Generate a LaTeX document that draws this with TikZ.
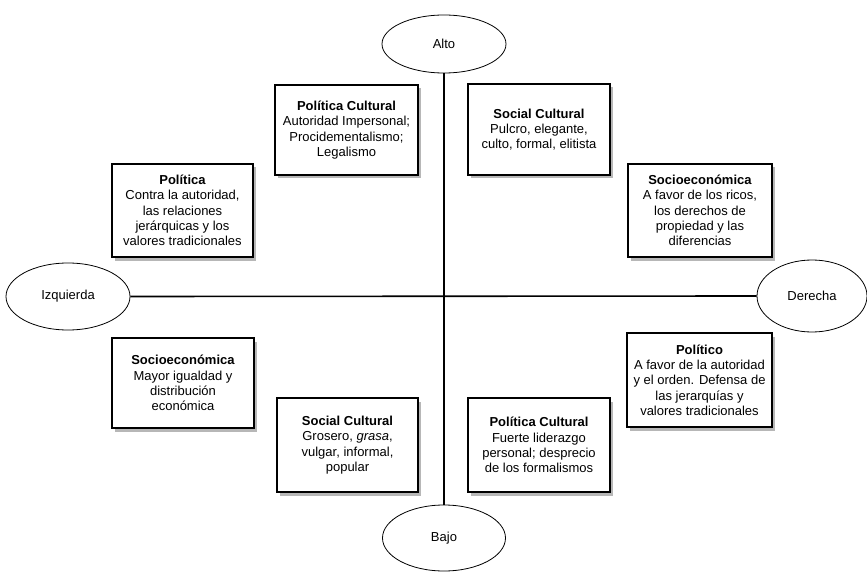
\documentclass[tikz,border=0pt]{standalone}
\usepackage{fontspec}
\setmainfont{Liberation Sans}
\usetikzlibrary{shapes.geometric,shadows}
\begin{document}
\begin{tikzpicture}[x=1pt,y=-1pt,
  infobox/.style={draw=black,line width=1.3pt,fill=white,align=center,
    inner sep=0pt,font=\fontsize{13}{15.3}\selectfont,
    drop shadow={shadow xshift=2.5pt,shadow yshift=-3.5pt,opacity=0.4,fill=black!70}},
  pole/.style={draw=black,ellipse,line width=0.8pt,fill=white,inner sep=0pt,
    font=\fontsize{13}{15.3}\selectfont},
  axis/.style={line width=1.6pt}]
\useasboundingbox (0,0) rectangle (867,572);
% poles
\node[pole,minimum width=124pt,minimum height=58pt] (alto) at (444,44) {Alto};
\node[pole,minimum width=123pt,minimum height=66pt] (bajo) at (444,538) {Bajo};
\node[pole,minimum width=124pt,minimum height=67pt] (izq) at (68,296.5) {Izquierda};
\node[pole,minimum width=110pt,minimum height=72pt] (der) at (812,296) {Derecha};
% axes
\draw[axis] (alto.south) -- (bajo.north);
\draw[axis] (izq.east) -- (der.west);
% boxes
\node[infobox,minimum width=143pt,minimum height=90pt] (b1) at (346.5,130)
  {\textbf{Política Cultural}\\Autoridad Impersonal;\\Procidementalismo;\\Legalismo};
\node[infobox,minimum width=142pt,minimum height=91pt] (b2) at (539,129.5)
  {\textbf{Social Cultural}\\Pulcro, elegante,\\culto, formal, elitista};
\node[infobox,minimum width=141pt,minimum height=93pt] (b3) at (182.5,210.5)
  {\textbf{Política}\\Contra la autoridad,\\las relaciones\\jerárquicas y los\\valores tradicionales};
\node[infobox,minimum width=144pt,minimum height=93pt] (b4) at (700,210.5)
  {\textbf{Socioeconómica}\\A favor de los ricos,\\los derechos de\\propiedad y las\\diferencias};
\node[infobox,minimum width=142pt,minimum height=90pt] (b5) at (183,383)
  {\textbf{Socioeconómica}\\Mayor igualdad y\\distribución\\económica};
\node[infobox,minimum width=145pt,minimum height=94pt] (b6) at (699.5,380)
  {\textbf{Político}\\A favor de la autoridad\\y el orden. Defensa de\\las jerarquías y\\valores tradicionales};
\node[infobox,minimum width=141pt,minimum height=94pt] (b7) at (347.5,445)
  {\textbf{Social Cultural}\\Grosero, \textit{grasa},\\vulgar, informal,\\popular};
\node[infobox,minimum width=142pt,minimum height=94pt] (b8) at (539,445)
  {\textbf{Política Cultural}\\Fuerte liderazgo\\personal; desprecio\\de los formalismos};
\end{tikzpicture}
\end{document}
